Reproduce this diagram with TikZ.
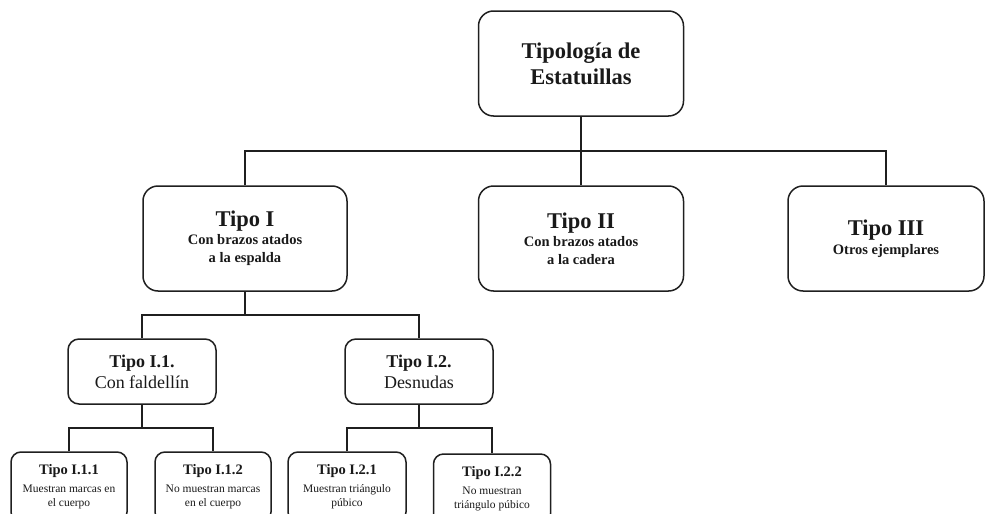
\documentclass[tikz,border=0pt]{standalone}
\usepackage{fontspec}
\setmainfont{Liberation Serif}
\begin{document}
\begin{tikzpicture}[x=1pt,y=-1pt,
  lw/.style={line width=1.5pt,draw=black!88},
  bigbox/.style={lw,rounded corners=15pt,minimum width=205pt,minimum height=105pt,inner sep=0pt,align=center,text=black!90},
  midbox/.style={lw,rounded corners=11pt,minimum width=148pt,minimum height=65pt,inner sep=0pt,align=center,text=black!90},
  smallbox/.style={lw,rounded corners=10pt,minimum width=116pt,minimum height=70pt,inner sep=0pt,align=center,text=black!90},
  conn/.style={lw}]
\useasboundingbox (0,0) rectangle (986,514);
\clip (0,0) rectangle (986,514);
% level 0
\node[bigbox,font=\fontsize{22.5}{26}\selectfont\bfseries] (top) at (581,63.5) {Tipología de\\Estatuillas};
% level 1
\node[bigbox,minimum width=204pt,font=\fontsize{14.5}{18}\selectfont\bfseries] (t1) at (245,238.5)
  {{\fontsize{22.5}{26}\selectfont Tipo I}\\Con brazos atados\\a la espalda};
\node[bigbox,font=\fontsize{14.5}{18}\selectfont\bfseries] (t2) at (581,238.5)
  {{\fontsize{22.5}{26}\selectfont Tipo II}\\Con brazos atados\\a la cadera};
\node[bigbox,minimum width=196pt,font=\fontsize{14.5}{19}\selectfont\bfseries] (t3) at (886,238.5)
  {{\fontsize{22.5}{26}\selectfont Tipo III}\\Otros ejemplares};
% level 2
\node[midbox,font=\fontsize{18}{21}\selectfont] (i1) at (142,371.5) {\textbf{Tipo I.1.}\\Con faldellín};
\node[midbox,font=\fontsize{18}{21}\selectfont] (i2) at (419,371.5) {\textbf{Tipo I.2.}\\Desnudas};
% level 3
\node[smallbox,font=\fontsize{11.5}{14}\selectfont] (i11) at (69,487)
  {{\fontsize{14.5}{16}\selectfont\bfseries Tipo I.1.1}\\[4pt]Muestran marcas en\\el cuerpo};
\node[smallbox,font=\fontsize{11.5}{14}\selectfont] (i12) at (213,487)
  {{\fontsize{14.5}{16}\selectfont\bfseries Tipo I.1.2}\\[4pt]No muestran marcas\\en el cuerpo};
\node[smallbox,minimum width=118pt,font=\fontsize{11.5}{14}\selectfont] (i21) at (347,487)
  {{\fontsize{14.5}{16}\selectfont\bfseries Tipo I.2.1}\\[4pt]Muestran triángulo\\púbico};
\node[smallbox,minimum width=117pt,font=\fontsize{11.5}{14}\selectfont] (i22) at (492,489)
  {{\fontsize{14.5}{16}\selectfont\bfseries Tipo I.2.2}\\[4pt]No muestran\\triángulo púbico};
% connectors
\coordinate (bus1) at (581,151);
\coordinate (bus2) at (245,315);
\coordinate (bus3) at (142,428);
\coordinate (bus4) at (419,428);
\draw[conn] (top.south) -- (bus1);
\draw[conn] (t1.north) |- (bus1) -| (t3.north);
\draw[conn] (bus1) -- (t2.north);
\draw[conn] (t1.south) -- (bus2);
\draw[conn] (i1.north) |- (bus2) -| (i2.north);
\draw[conn] (i1.south) -- (bus3);
\draw[conn] (i11.north) |- (bus3) -| (i12.north);
\draw[conn] (i2.south) -- (bus4);
\draw[conn] (i21.north) |- (bus4) -| (i22.north);
\end{tikzpicture}
\end{document}
